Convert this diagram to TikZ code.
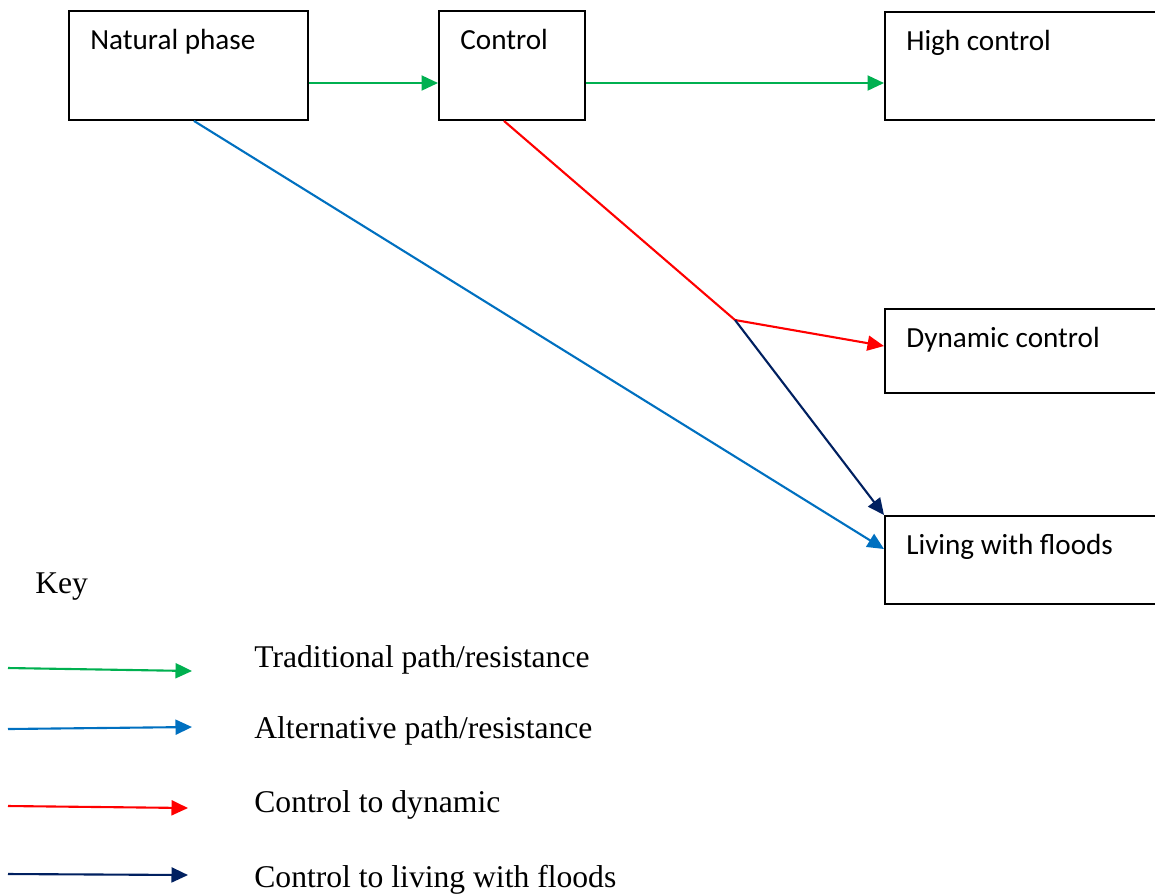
\documentclass[tikz,border=0pt]{standalone}
\usepackage{fontspec}
\setmainfont{Liberation Serif}
\newfontfamily\boxfont{Carlito}
\usetikzlibrary{arrows.meta}

\definecolor{tradgreen}{HTML}{00B050}
\definecolor{altblue}{HTML}{0070C0}
\definecolor{dynred}{HTML}{FF0000}
\definecolor{livnavy}{HTML}{002060}

\tikzset{
  phase/.style={draw,line width=1.1pt,rectangle,inner sep=0pt,anchor=north west},
  phaselabel/.style={anchor=base west,xshift=0.44cm,yshift=-0.78cm,inner sep=0pt,
    font=\boxfont\fontsize{16.6}{19}\selectfont},
  path arrow/.style={line width=1.2pt,-{Triangle[length=0.33cm,width=0.3cm]}},
  keytext/.style={anchor=base west,inner sep=0pt,font=\fontsize{18}{21}\selectfont}
}

\begin{document}
\begin{tikzpicture}[x=0.02cm,y=-0.02cm]
  \useasboundingbox (0,0) rectangle (1155,894);

  % stages
  \node [phase,minimum width=4.78cm,minimum height=2.18cm,
    label={[phaselabel]north west:Natural phase}] (nat) at (68,10) {};
  \node [phase,minimum width=2.92cm,minimum height=2.18cm,
    label={[phaselabel]north west:Control}] (ctl) at (438,10) {};
  \node [phase,minimum width=6cm,minimum height=2.16cm,
    label={[phaselabel]north west:High control}] (high) at (884,11) {};
  \node [phase,minimum width=6cm,minimum height=1.68cm,
    label={[phaselabel]north west:Dynamic control}] (dyn) at (884,308) {};
  \node [phase,minimum width=6cm,minimum height=1.76cm,
    label={[phaselabel]north west:Living with floods}] (liv) at (884,515) {};

  \coordinate (gy) at (0,83);
  \coordinate (split) at (735,320);

  \draw [path arrow,tradgreen] (nat.east |- gy) -- (ctl.west |- gy);
  \draw [path arrow,tradgreen] (ctl.east |- gy) -- (high.west |- gy);
  \draw [path arrow,altblue] ([xshift=0.11cm]nat.south) -- (liv.west |- 0,549);
  \draw [line width=1.2pt,dynred] ([xshift=-0.16cm]ctl.south) -- (split);
  \draw [path arrow,dynred] (split) -- (dyn.west |- 0,346);
  \draw [path arrow,livnavy] (split) -- (liv.north west);

  % key
  \node [keytext] (key) at (35,593) {Key};

  \coordinate (k1a) at (8,668);  \coordinate (k1b) at (192,671);
  \coordinate (k2a) at (8,729);  \coordinate (k2b) at (192,727);
  \coordinate (k3a) at (8,806);  \coordinate (k3b) at (188,808);
  \coordinate (k4a) at (8,874);  \coordinate (k4b) at (188,875);

  \draw [path arrow,tradgreen] (k1a) -- (k1b);
  \draw [path arrow,altblue] (k2a) -- (k2b);
  \draw [path arrow,dynred] (k3a) -- (k3b);
  \draw [path arrow,livnavy] (k4a) -- (k4b);

  \node [keytext] (t1) at (254,667) {Traditional path/resistance};
  \node [keytext] (t2) at (254,738) {Alternative path/resistance};
  \node [keytext] (t3) at (254,812) {Control to dynamic};
  \node [keytext] (t4) at (254,887) {Control to living with floods};
\end{tikzpicture}
\end{document}
